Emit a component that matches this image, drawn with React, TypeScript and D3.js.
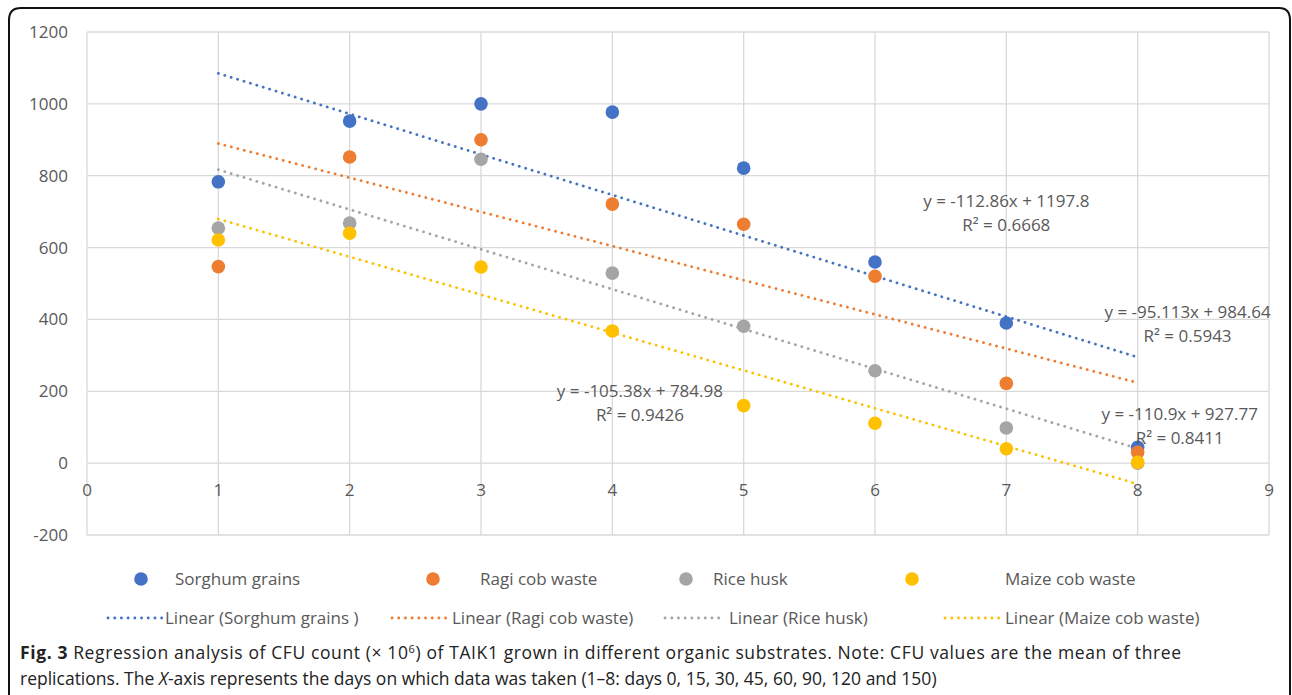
import React from "react";
import * as d3 from "d3";

// CFU count per substrate, days index 1-8
const days = [1, 2, 3, 4, 5, 6, 7, 8];
const seriesNames = ["Sorghum grains", "Ragi cob waste", "Rice husk", "Maize cob waste"];
const trendNames = [
  "Linear (Sorghum grains )",
  "Linear (Ragi cob waste)",
  "Linear (Rice husk)",
  "Linear (Maize cob waste)",
];
const sorghum = [783, 952, 1000, 977, 821, 560, 390, 44];
const ragi = [547, 852, 900, 721, 665, 520, 222, 30];
const riceHusk = [654, 668, 846, 529, 381, 257, 98, 0];
const maize = [621, 640, 546, 368, 160, 111, 40, 2];

// trendline equations as printed on the chart
const slopes = [-112.86, -95.113, -110.9, -105.38];
const intercepts = [1197.8, 984.64, 927.77, 784.98];
const r2 = ["0.6668", "0.5943", "0.8411", "0.9426"];
const eqLabels = [
  "y = -112.86x + 1197.8",
  "y = -95.113x + 984.64",
  "y = -110.9x + 927.77",
  "y = -105.38x + 784.98",
];
// where each equation label sits, in data units
const eqAnchorX = [7.0, 8.38, 8.32, 4.21];
const eqAnchorY = [697, 386, 103, 167];

const xTicks = [0, 1, 2, 3, 4, 5, 6, 7, 8, 9];
const yTicks = [-200, 0, 200, 400, 600, 800, 1000, 1200];

const colors = ["#4472C4", "#ED7D31", "#A5A5A5", "#FFC000"];
const font = "'Open Sans', 'Noto Sans', sans-serif";
const textColor = "#595959";

export default function App() {
  const width = 1292,
    height = 695;
  const plot = { left: 87, right: 1269, top: 32, bottom: 535 };

  const x = d3.scaleLinear().domain([0, 9]).range([plot.left, plot.right]);
  const y = d3.scaleLinear().domain([-200, 1200]).range([plot.bottom, plot.top]);

  const allSeries = [sorghum, ragi, riceHusk, maize];

  // legend layout
  const legendMarkerX = [141, 433, 686, 912];
  const legendTextX = [175, 480, 713, 1005];
  const legendLineX = [108, 392, 665, 945];
  const legendLineTextX = [165, 452, 729, 1005];

  return (
    <svg
      width={width}
      height={height}
      style={{ position: "absolute", left: 0, top: 0, background: "#fff" }}
      fontFamily={font}
    >
      {/* outer frame */}
      <path
        d={`M9,${height + 5} L9,20 Q9,8 21,8 L1279,8 Q1290,8 1290,20 L1290,${height + 5}`}
        fill="none"
        stroke="#111"
        strokeWidth={2}
      />

      {/* grid */}
      {yTicks.map((t) => (
        <line key={"gy" + t} x1={plot.left} x2={plot.right} y1={y(t)} y2={y(t)} stroke="#D9D9D9" strokeWidth={1.3} />
      ))}
      {xTicks.map((t) => (
        <line key={"gx" + t} x1={x(t)} x2={x(t)} y1={plot.top} y2={plot.bottom} stroke="#D9D9D9" strokeWidth={1.3} />
      ))}

      {/* y tick labels */}
      {yTicks.map((t) => (
        <text key={"ty" + t} x={68} y={y(t)} dy="0.35em" textAnchor="end" fontSize={17} fill={textColor}>
          {t}
        </text>
      ))}
      {/* x tick labels */}
      {xTicks.map((t) => (
        <text key={"tx" + t} x={x(t)} y={y(0) + 27} dy="0.35em" textAnchor="middle" fontSize={17} fill={textColor}>
          {t}
        </text>
      ))}

      {/* trendlines */}
      {slopes.map((m, i) => {
        const ends = [days[0], days[days.length - 1]];
        return (
          <line
            key={"tr" + i}
            x1={x(ends[0])}
            y1={y(m * ends[0] + intercepts[i])}
            x2={x(ends[1])}
            y2={y(m * ends[1] + intercepts[i])}
            stroke={colors[i]}
            strokeWidth={2.8}
            strokeLinecap="round"
            strokeDasharray="0.1 6.6"
          />
        );
      })}

      {/* points */}
      {allSeries.map((s, si) =>
        s.map((v, i) => (
          <circle key={`p${si}-${i}`} cx={x(days[i])} cy={y(v)} r={6.8} fill={colors[si]} />
        ))
      )}

      {/* equation labels */}
      {eqLabels.map((lab, i) => {
        const cx = x(eqAnchorX[i]);
        const cy = y(eqAnchorY[i]);
        return (
          <g key={"eq" + i} fontSize={17} fill={textColor} textAnchor="middle">
            <text x={cx} y={cy - 12} dy="0.35em">
              {lab}
            </text>
            <text x={cx} y={cy + 12} dy="0.35em">
              R² = {r2[i]}
            </text>
          </g>
        );
      })}

      {/* legend */}
      {seriesNames.map((n, i) => (
        <g key={"lg" + i}>
          <circle cx={legendMarkerX[i]} cy={579} r={6.8} fill={colors[i]} />
          <text x={legendTextX[i]} y={579} dy="0.35em" fontSize={17} fill={textColor}>
            {n}
          </text>
          <line
            x1={legendLineX[i]}
            x2={legendLineX[i] + 54}
            y1={618}
            y2={618}
            stroke={colors[i]}
            strokeWidth={2.8}
            strokeLinecap="round"
            strokeDasharray="0.1 6.6"
          />
          <text x={legendLineTextX[i]} y={618} dy="0.35em" fontSize={17} fill={textColor}>
            {trendNames[i]}
          </text>
        </g>
      ))}

      {/* caption */}
      <text x={20} y={659} fontSize={17.5} fill="#222" textLength={1161} lengthAdjust="spacing">
        <tspan fontWeight="bold">Fig. 3</tspan>
        <tspan> Regression analysis of CFU count (× 10</tspan>
        <tspan dy={-6} fontSize={11}>6</tspan>
        <tspan dy={6}>) of TAIK1 grown in different organic substrates. Note: CFU values are the mean of three</tspan>
      </text>
      <text x={20} y={685} fontSize={17.5} fill="#222">
        replications. The <tspan fontStyle="italic">X</tspan>-axis represents the days on which data was taken (1–8: days 0, 15, 30, 45, 60, 90, 120 and 150)
      </text>
    </svg>
  );
}
